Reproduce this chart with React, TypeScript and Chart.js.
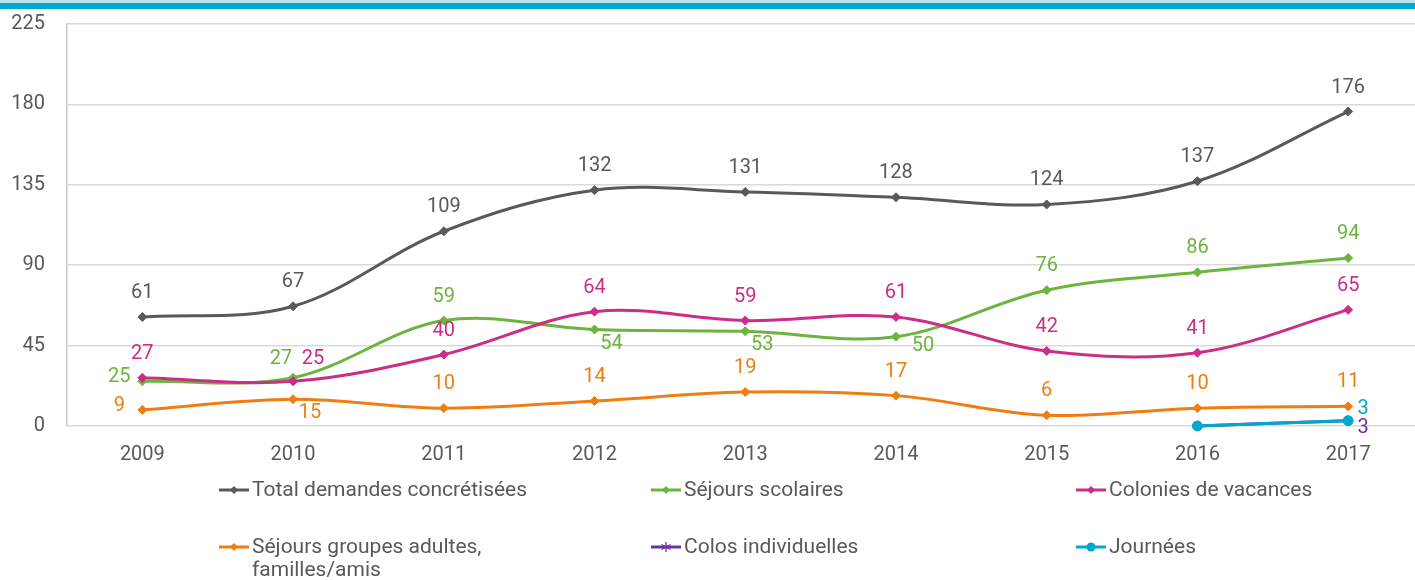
import React, { useEffect, useRef } from "react";
import { Chart, registerables } from "chart.js";
Chart.register(...registerables);

const years = ["2009", "2010", "2011", "2012", "2013", "2014", "2015", "2016", "2017"];
const total = [61, 67, 109, 132, 131, 128, 124, 137, 176];
const scolaires = [25, 27, 59, 54, 53, 50, 76, 86, 94];
const colonies = [27, 25, 40, 64, 59, 61, 42, 41, 65];
const groupes = [9, 15, 10, 14, 19, 17, 6, 10, 11];
const colos = [null, null, null, null, null, null, null, 0, 3];
const journees = [null, null, null, null, null, null, null, 0, 3];
const yTicks = [0, 45, 90, 135, 180, 225];

const seriesNames = [
  "Total demandes concrétisées",
  "Séjours scolaires",
  "Colonies de vacances",
  "Séjours groupes adultes, familles/amis",
  "Colos individuelles",
  "Journées",
];

// label placement codes (style, not data)
const totalPlace = ["a", "a", "a", "a", "a", "a", "a", "a", "a"];
const scolPlace = ["l", "al", "a", "br", "br", "r", "a", "a", "a"];
const colPlace = ["a", "ar", "a", "a", "a", "a", "a", "a", "a"];
const grpPlace = ["l", "br", "a", "a", "a", "a", "a", "a", "a"];
const colosPlace = ["-", "-", "-", "-", "-", "-", "-", "-", "rb"];
const journPlace = ["-", "-", "-", "-", "-", "-", "-", "-", "ra"];

const OFFSETS: Record<string, [number, number]> = {
  a: [0, -24],
  al: [-12, -19],
  ar: [20, -22],
  l: [-23, -4],
  br: [17, 14],
  r: [27, 9],
  rb: [15, 7],
  ra: [15, -12],
};

const C_GRAY = "#595959";
const C_GREEN = "#6DB33F";
const C_PINK = "#CC2D86";
const C_ORANGE = "#F07D12";
const C_PURPLE = "#7030A0";
const C_CYAN = "#00A9CC";

const FONT = "Roboto";
const W = 1430;

const labelPlugin = {
  id: "valueLabels",
  afterDatasetsDraw(chart: any) {
    const ctx = chart.ctx;
    ctx.save();
    ctx.font = `20px ${FONT}`;
    ctx.textAlign = "center";
    ctx.textBaseline = "middle";
    chart.data.datasets.forEach((ds: any, i: number) => {
      const meta = chart.getDatasetMeta(i);
      meta.data.forEach((pt: any, j: number) => {
        const v = ds.data[j];
        const code = ds.placements[j];
        if (v === null || v === undefined || code === "-") return;
        const off = OFFSETS[code];
        ctx.fillStyle = ds.labelColor;
        ctx.fillText(String(v), pt.x + off[0], pt.y + off[1]);
      });
    });
    ctx.restore();
  },
};

function LegendMarker({ color, kind }: { color: string; kind: string }) {
  return (
    <svg width={32} height={14} style={{ display: "block" }}>
      <line x1={1} y1={7} x2={31} y2={7} stroke={color} strokeWidth={3} />
      {kind === "diamond" && <polygon points="16,3 20,7 16,11 12,7" fill={color} />}
      {kind === "circle" && <circle cx={16} cy={7} r={4.5} fill={color} />}
      {kind === "star" && (
        <g stroke={color} strokeWidth={1.3}>
          <line x1={16} y1={2} x2={16} y2={12} />
          <line x1={11.5} y1={4.5} x2={20.5} y2={9.5} />
          <line x1={11.5} y1={9.5} x2={20.5} y2={4.5} />
        </g>
      )}
    </svg>
  );
}

export default function App() {
  const canvasRef = useRef<HTMLCanvasElement>(null);

  useEffect(() => {
    document.body.style.margin = "0";
    document.body.style.overflow = "hidden";
    const mk = (label: string, data: any[], color: string, place: string[], style: string, radius: number, order: number) => ({
      label,
      data,
      borderColor: color,
      backgroundColor: color,
      pointBackgroundColor: color,
      pointBorderColor: color,
      pointStyle: style,
      pointRadius: radius,
      pointBorderWidth: style === "star" ? 1.5 : 1,
      borderWidth: 3,
      tension: 0.35,
      fill: false,
      clip: false,
      labelColor: color,
      placements: place,
      order,
    });
    const chart = new Chart(canvasRef.current!, {
      type: "line",
      data: {
        labels: years,
        datasets: [
          mk(seriesNames[0], total, C_GRAY, totalPlace, "rectRot", 4.5, 1),
          mk(seriesNames[1], scolaires, C_GREEN, scolPlace, "rectRot", 4.5, 3),
          mk(seriesNames[2], colonies, C_PINK, colPlace, "rectRot", 4.5, 2),
          mk(seriesNames[3], groupes, C_ORANGE, grpPlace, "rectRot", 4.5, 4),
          mk(seriesNames[4], colos, C_PURPLE, colosPlace, "star", 5, 6),
          mk(seriesNames[5], journees, C_CYAN, journPlace, "circle", 5, 5),
        ] as any,
      },
      options: {
        animation: false,
        responsive: false,
        maintainAspectRatio: false,
        layout: { padding: { top: 24, right: 3, bottom: 104, left: 0 } },
        plugins: { legend: { display: false }, tooltip: { enabled: false } },
        scales: {
          x: {
            offset: true,
            grid: { display: false, drawTicks: false },
            border: { display: false },
            ticks: { color: C_GRAY, font: { size: 20, family: FONT }, padding: 17, maxRotation: 0 },
            afterFit: (s: any) => { s.height = 50; },
          },
          y: {
            min: 0,
            max: 225,
            afterBuildTicks: (s: any) => { s.ticks = yTicks.map((v) => ({ value: v })); },
            grid: { color: "#d9d9d9", lineWidth: 1.5, drawTicks: false },
            border: { display: true, color: "#c8c8c8", width: 1.5 },
            ticks: { color: C_GRAY, font: { size: 20, family: FONT }, padding: 22 },
            afterFit: (s: any) => { s.width = 67; s.paddingTop = 0; s.paddingBottom = 0; },
          },
        },
      } as any,
      plugins: [labelPlugin],
    });
    return () => chart.destroy();
  }, []);

  const legendItems = [
    { name: seriesNames[0], color: C_GRAY, kind: "diamond", x: 218, y: 490 },
    { name: seriesNames[1], color: C_GREEN, kind: "diamond", x: 650, y: 490 },
    { name: seriesNames[2], color: C_PINK, kind: "diamond", x: 1075, y: 490 },
    { name: seriesNames[3], color: C_ORANGE, kind: "diamond", x: 218, y: 547 },
    { name: seriesNames[4], color: C_PURPLE, kind: "star", x: 650, y: 547 },
    { name: seriesNames[5], color: C_CYAN, kind: "circle", x: 1075, y: 547 },
  ];

  return (
    <div style={{ position: "relative", width: W, height: 580, fontFamily: FONT }}>
      <canvas ref={canvasRef} width={W} height={580} style={{ position: "absolute", left: 0, top: 0 }} />
      <div style={{ position: "absolute", left: 0, top: 0, width: W, height: 3, background: "#b9e3ee" }} />
      <div style={{ position: "absolute", left: 0, top: 3, width: W, height: 6, background: "#00A9CC" }} />
      {legendItems.map((it, i) => (
        <div key={i} style={{ position: "absolute", left: it.x, top: it.y - 12, display: "flex", alignItems: "flex-start" }}>
          <div style={{ paddingTop: 5 }}>
            <LegendMarker color={it.color} kind={it.kind} />
          </div>
          <div style={{ marginLeft: 2, color: C_GRAY, fontSize: 21, lineHeight: "23px", width: 300 }}>{it.name}</div>
        </div>
      ))}
    </div>
  );
}
